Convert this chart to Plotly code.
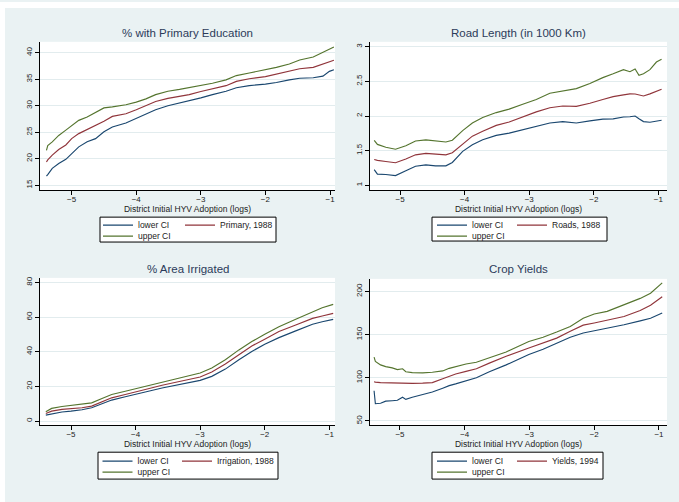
import plotly.graph_objects as go

# ---- data: local fits with confidence bands vs. initial HYV adoption (logs) ----
edu_x = [-5.39, -5.37, -5.30, -5.20, -5.09, -5.00, -4.89, -4.76, -4.63, -4.50, -4.37,
         -4.16, -4.00, -3.85, -3.70, -3.51, -3.33, -3.18, -3.00, -2.82, -2.61, -2.45,
         -2.25, -2.00, -1.83, -1.63, -1.47, -1.26, -1.11, -1.01, -0.94]
edu_lo = [16.75, 17.0, 18.2, 19.1, 19.9, 21.0, 22.25, 23.2, 23.8, 25.1, 26.0, 26.75, 27.6,
          28.5, 29.25, 30.0, 30.5, 30.9, 31.5, 32.1, 32.75, 33.4, 33.8, 34.1, 34.4, 34.9,
          35.2, 35.3, 35.6, 36.5, 36.8]
edu_mid = [19.4, 19.8, 20.7, 21.75, 22.6, 23.8, 24.75, 25.5, 26.3, 27.1, 28.0, 28.5, 29.25,
           30.1, 30.8, 31.4, 31.75, 32.1, 32.7, 33.2, 33.8, 34.6, 35.1, 35.5, 36.0, 36.5,
           37.0, 37.25, 37.9, 38.3, 38.6]
edu_hi = [21.6, 22.5, 23.2, 24.4, 25.4, 26.3, 27.25, 27.9, 28.8, 29.6, 29.8, 30.2, 30.7,
          31.3, 32.1, 32.75, 33.1, 33.4, 33.8, 34.25, 34.9, 35.7, 36.2, 36.75, 37.25, 37.9,
          38.65, 39.2, 40.06, 40.6, 41.1]

road_x = [-5.40, -5.35, -5.22, -5.07, -4.91, -4.76, -4.60, -4.45, -4.29, -4.19, -4.03,
          -3.88, -3.72, -3.51, -3.31, -3.10, -2.89, -2.68, -2.48, -2.27, -2.06, -1.86,
          -1.70, -1.54, -1.44, -1.36, -1.30, -1.23, -1.13, -1.03, -0.95]
road_lo = [1.227, 1.16, 1.155, 1.14, 1.21, 1.275, 1.295, 1.28, 1.28, 1.33, 1.49, 1.585,
           1.657, 1.72, 1.753, 1.80, 1.85, 1.90, 1.92, 1.90, 1.93, 1.955, 1.96, 1.986,
           1.99, 2.0, 1.96, 1.92, 1.91, 1.93, 1.94]
road_mid = [1.372, 1.36, 1.343, 1.326, 1.38, 1.44, 1.46, 1.45, 1.44, 1.47, 1.60, 1.71,
            1.78, 1.865, 1.913, 1.985, 2.06, 2.12, 2.145, 2.14, 2.185, 2.24, 2.28, 2.305,
            2.32, 2.318, 2.305, 2.29, 2.32, 2.355, 2.386]
road_hi = [1.647, 1.59, 1.55, 1.52, 1.57, 1.64, 1.655, 1.64, 1.625, 1.65, 1.79, 1.90,
           1.98, 2.05, 2.10, 2.17, 2.24, 2.33, 2.365, 2.396, 2.47, 2.555, 2.61, 2.67,
           2.64, 2.68, 2.59, 2.61, 2.67, 2.78, 2.82]

irr_x = [-5.39, -5.30, -5.14, -5.00, -4.83, -4.68, -4.52, -4.37, -4.16, -4.00, -3.85,
         -3.59, -3.33, -3.00, -2.82, -2.61, -2.40, -2.20, -2.00, -1.78, -1.52, -1.26,
         -1.11, -0.94]
irr_lo = [3.4, 4.2, 5.2, 5.7, 6.5, 7.65, 10.0, 12.1, 14.0, 15.3, 16.8, 19.1, 21.05, 23.5,
          25.8, 30.0, 35.4, 40.2, 44.4, 48.2, 52.1, 55.9, 57.4, 58.75]
irr_mid = [4.4, 5.7, 6.7, 7.1, 7.65, 8.6, 11.1, 13.4, 15.3, 16.65, 18.2, 20.7, 22.6, 25.45,
           28.3, 32.9, 38.3, 43.4, 47.3, 51.7, 55.5, 59.3, 60.7, 62.2]
irr_hi = [5.36, 7.3, 8.4, 9.0, 9.6, 10.5, 13.0, 15.3, 17.2, 18.6, 20.1, 22.6, 24.5, 27.75,
          30.6, 35.4, 41.1, 45.9, 50.1, 54.5, 58.75, 63.2, 65.5, 67.4]

yld_x = [-5.40, -5.38, -5.30, -5.22, -5.12, -5.04, -4.96, -4.91, -4.81, -4.65, -4.50,
         -4.34, -4.24, -4.14, -3.98, -3.82, -3.62, -3.36, -3.01, -2.79, -2.58, -2.37,
         -2.17, -2.00, -1.80, -1.54, -1.29, -1.13, -0.95]
yld_lo = [85, 70, 70.5, 73, 73.5, 74, 77.5, 75, 77.5, 81, 83.5, 88, 91, 93, 96.5, 100,
          107, 115, 127, 133, 140, 147, 152, 154.5, 157, 161.5, 166, 169, 175]
yld_mid = [95.5, 95, 94.5, 94.2, 94, 93.8, 93.5, 93.5, 93.5, 93.8, 94.5, 99, 102, 104.5,
           107.5, 110.5, 117, 125, 134.5, 140, 146, 154, 161, 163.5, 166.5, 171, 178,
           184, 194]
yld_hi = [124, 119, 115, 113, 111.5, 109.5, 110.5, 107, 106, 105.8, 106.5, 108, 111, 113,
          116, 118, 123, 130, 142, 147, 153, 159.5, 169, 174, 177, 184.5, 192, 198, 210]

titles = ["% with Primary Education", "Road Length (in 1000 Km)",
          "% Area Irrigated", "Crop Yields"]
fit_names = ["Primary, 1988", "Roads, 1988", "Irrigation, 1988", "Yields, 1994"]
x_title = "District Initial HYV Adoption (logs)"
x_ticks = [-5, -4, -3, -2, -1]
y_ticks = [[15, 20, 25, 30, 35, 40], [1, 1.5, 2, 2.5, 3],
           [0, 20, 40, 60, 80], [50, 100, 150, 200]]

series = [
    (edu_x, edu_lo, edu_mid, edu_hi),
    (road_x, road_lo, road_mid, road_hi),
    (irr_x, irr_lo, irr_mid, irr_hi),
    (yld_x, yld_lo, yld_mid, yld_hi),
]

# ---- styling / geometry (pixels in a 679 x 502 canvas) ----
W, H = 679, 502
BG = "#eaf2f3"
NAVY, MAROON, GREEN = "#1a476f", "#90353b", "#55752f"
FONT = "Liberation Sans, Arial, sans-serif"

# plot boxes: left, right, top, bottom
boxes = [(40, 335, 40, 189), (370, 667, 40, 189),
         (40, 335, 277, 425), (370, 667, 278, 425)]
x_ranges = [[-5.49, -0.923], [-5.465, -0.866], [-5.48, -0.912], [-5.463, -0.876]]
y_ranges = [[14.06, 42.07], [0.928, 3.072], [-2.47, 82.7], [45.0, 214.6]]
title_y = [31, 31, 268, 268]
# legend frame (left, right, top, bottom), row centres, column line starts
leg_frames = [(100, 276, 216, 241), (432, 607, 216, 240),
              (98, 278, 452, 479), (432, 603, 452, 479)]
leg_rows = [(224, 235), (224, 235), (461, 472), (461, 472)]
leg_cols = [(98, 180), (432, 512), (97.5, 177), (432, 512)]


def px(x):
    return x / W


def py(y):
    return 1 - y / H


fig = go.Figure()
layout = dict(
    width=W, height=H, margin=dict(l=0, r=0, t=0, b=0),
    paper_bgcolor=BG, plot_bgcolor="white",
    font=dict(family=FONT, color="#222222"),
    showlegend=True, annotations=[], shapes=[],
)

# white strip along the top and left edges
layout["shapes"].append(dict(type="rect", xref="paper", yref="paper", x0=0, x1=1,
                             y0=py(6), y1=1, fillcolor="white", line_width=0, layer="below"))
layout["shapes"].append(dict(type="rect", xref="paper", yref="paper", x0=0, x1=px(5),
                             y0=0, y1=1, fillcolor="white", line_width=0, layer="below"))

for i in range(4):
    n = "" if i == 0 else str(i + 1)
    xs, lo, mid, hi = series[i]
    l, r, t, b = boxes[i]
    lg = [f"legend{'' if i == 0 else 3 * i + 1}", f"legend{3 * i + 2}", f"legend{3 * i + 3}"]

    for vals, name, color, leg in [(lo, "lower CI", NAVY, lg[0]),
                                   (mid, fit_names[i], MAROON, lg[1]),
                                   (hi, "upper CI", GREEN, lg[2])]:
        fig.add_trace(go.Scatter(x=xs, y=vals, mode="lines", name=name,
                                 line=dict(color=color, width=1.15),
                                 xaxis="x" + n, yaxis="y" + n, legend=leg,
                                 hoverinfo="skip"))

    layout["xaxis" + n] = dict(
        domain=[px(l), px(r)], range=x_ranges[i], anchor="y" + n,
        tickvals=x_ticks, ticks="outside", ticklen=4, tickwidth=1, tickcolor="black",
        showline=True, linecolor="black", linewidth=1, showgrid=False, zeroline=False,
        tickfont=dict(size=8, color="#222222"), ticklabelstandoff=-3,
        title=dict(text=x_title, font=dict(size=8.5, color="#222222"), standoff=0),
    )
    layout["yaxis" + n] = dict(
        domain=[py(b), py(t)], range=y_ranges[i], anchor="x" + n,
        tickvals=y_ticks[i], tickangle=-90, ticks="outside", ticklen=4, tickwidth=1,
        tickcolor="black", showline=True, linecolor="black", linewidth=1,
        showgrid=True, gridcolor="#e2ecee", gridwidth=1, zeroline=False,
        tickfont=dict(size=8, color="#222222"),
    )

    layout["annotations"].append(dict(
        text=titles[i], xref="paper", yref="paper", x=px((l + r) / 2), y=py(title_y[i]),
        xanchor="center", yanchor="middle", showarrow=False,
        font=dict(size=11.5, color="#2c3b5a", family=FONT)))

    fl, fr, ft, fb = leg_frames[i]
    layout["shapes"].append(dict(type="rect", xref="paper", yref="paper",
                                 x0=px(fl), x1=px(fr), y0=py(fb), y1=py(ft),
                                 fillcolor="white", line=dict(color="black", width=1),
                                 layer="below"))
    r1, r2 = leg_rows[i]
    c1, c2 = leg_cols[i]
    for key, lx, ly in [(lg[0], c1, r1), (lg[1], c2, r1), (lg[2], c1, r2)]:
        layout[key] = dict(x=px(lx), y=py(ly), xanchor="left", yanchor="middle",
                           bgcolor="rgba(0,0,0,0)", borderwidth=0, itemwidth=30,
                           font=dict(size=8.5, color="#222222", family=FONT),
                           orientation="v", tracegroupgap=0)

fig.update_layout(**layout)
fig.write_html("out.html")
